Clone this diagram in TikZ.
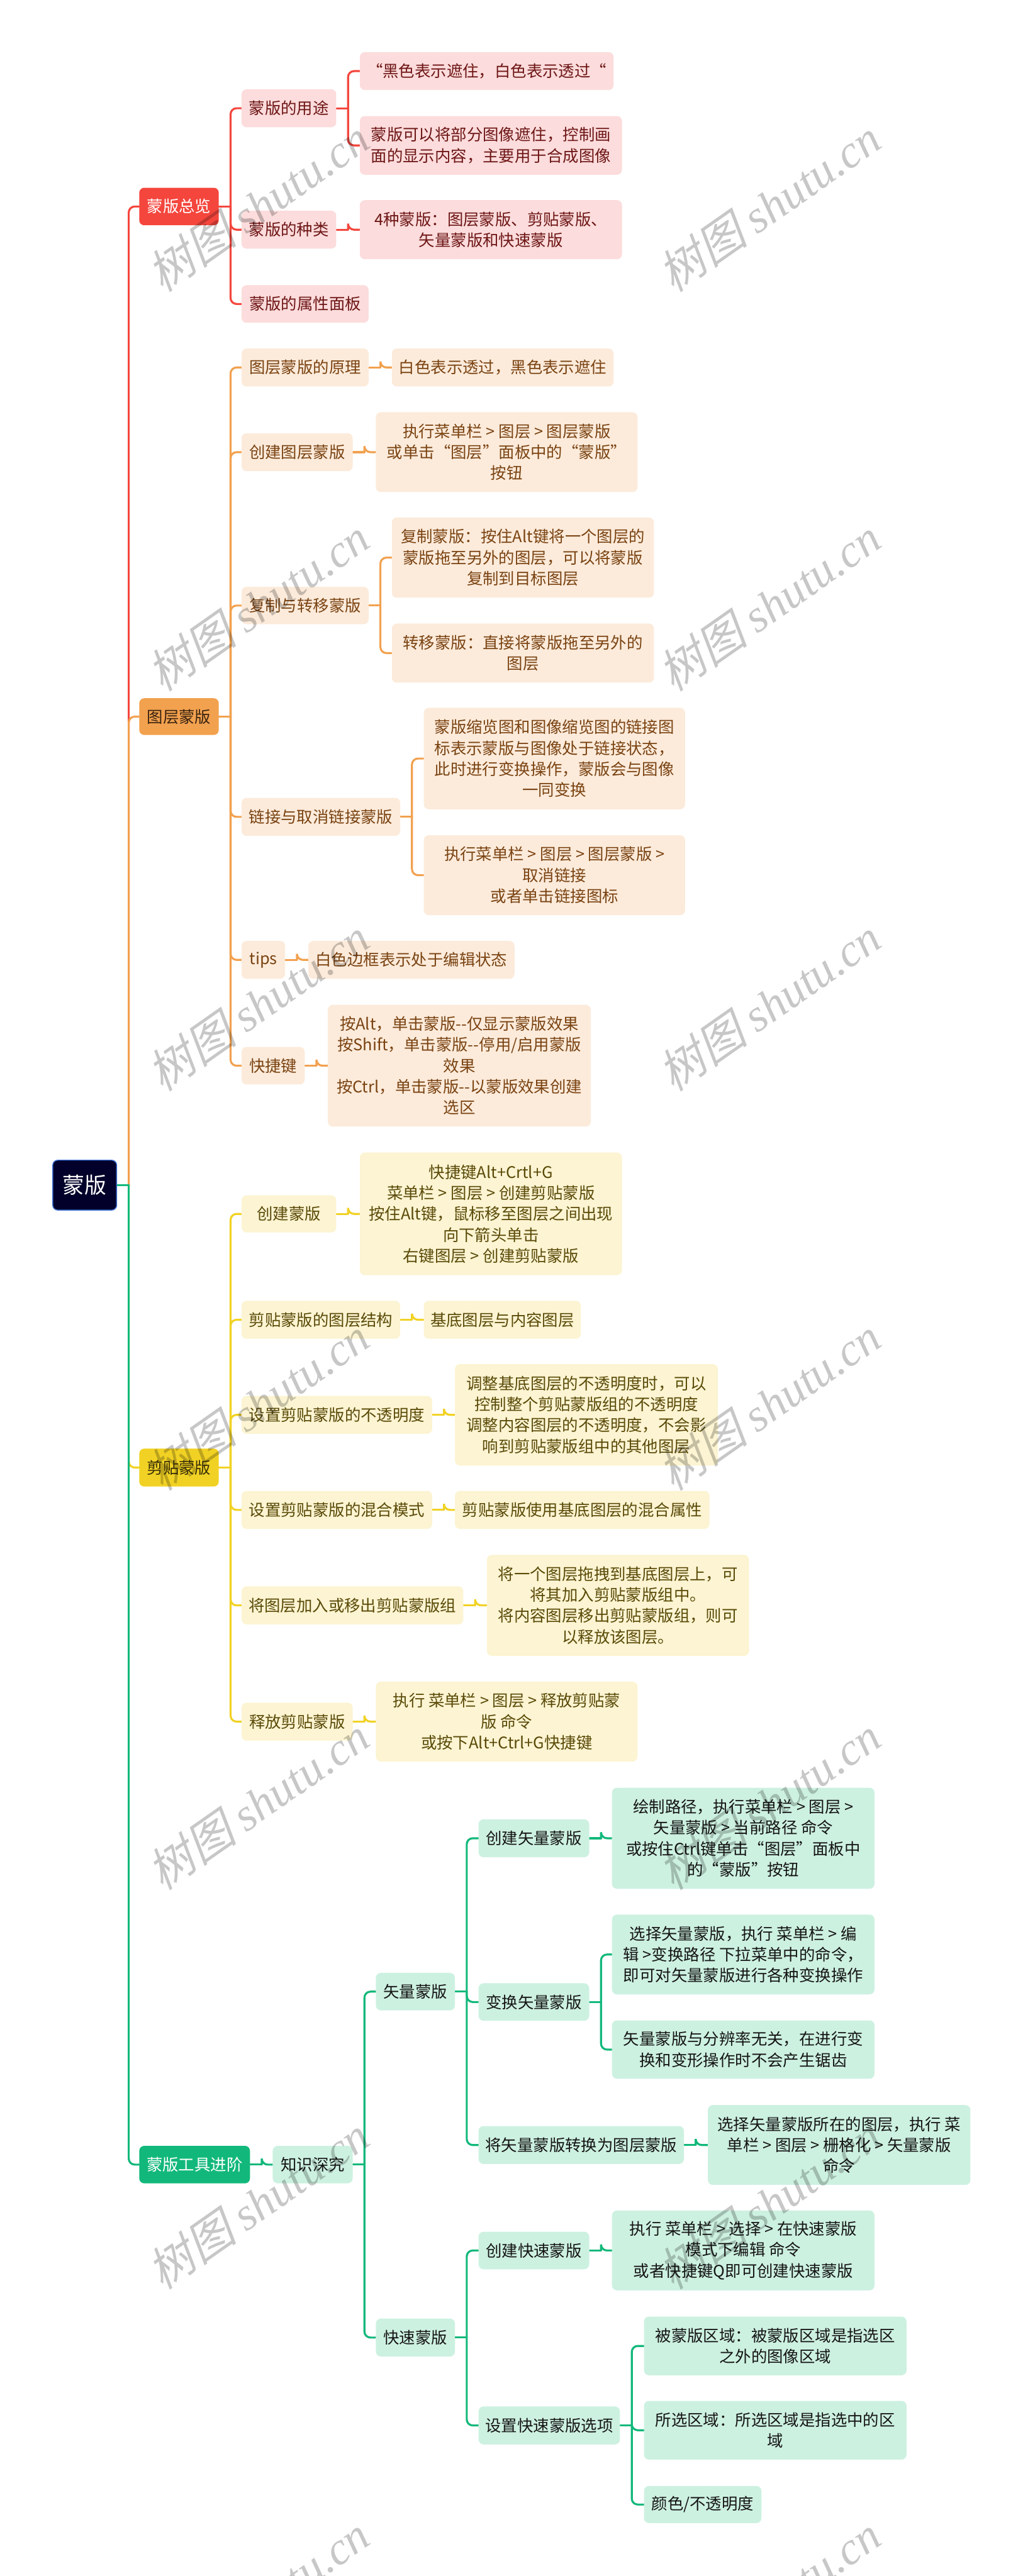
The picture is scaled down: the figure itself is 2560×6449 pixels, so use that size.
\documentclass[tikz,border=0pt]{standalone}
\usepackage{fontspec}
\setmainfont{Noto Sans CJK SC}
\newfontfamily\wmlat{Liberation Serif}
\newfontfamily\wmcjk{Noto Sans CJK SC}[FakeSlant=0.25]
\usetikzlibrary{backgrounds}
\definecolor{rootfill}{HTML}{02002A}
\definecolor{rootborder}{HTML}{3B6FD0}
\definecolor{redmain}{HTML}{F4463D}
\definecolor{redlight}{HTML}{FCDCDC}
\definecolor{redtext}{HTML}{6E1616}
\definecolor{ormain}{HTML}{F2A14F}
\definecolor{orlight}{HTML}{FCEBDB}
\definecolor{ortext}{HTML}{7A4312}
\definecolor{ordark}{HTML}{3A2410}
\definecolor{yemain}{HTML}{F1D224}
\definecolor{yelight}{HTML}{FCF4D2}
\definecolor{yetext}{HTML}{5A4A08}
\definecolor{yedark}{HTML}{3A3008}
\definecolor{grmain}{HTML}{12B87B}
\definecolor{grlight}{HTML}{CDF1E1}
\definecolor{grtext}{HTML}{151515}
\newcommand\conn[3]{\draw[#1] (#2.east) -- ++(29,0) coordinate (jn); \draw[#1, rounded corners=6pt] (jn) |- (#3.west);}
\newcommand\dd{-{}-}
\tikzset{
  base/.style={rounded corners=5pt, inner sep=0pt, align=center, font=\fontsize{16pt}{21pt}\selectfont},
  sz/.style 2 args={minimum width=#1*0.4pt, minimum height=#2*0.4pt},
  rootbox/.style={base, fill=rootfill, draw=rootborder, line width=0.9pt, text=white, font=\fontsize{22pt}{26pt}\selectfont},
  redtop/.style={base, fill=redmain, text=white},
  redbox/.style={base, fill=redlight, text=redtext},
  ortop/.style={base, fill=ormain, text=ordark},
  orbox/.style={base, fill=orlight, text=ortext},
  yetop/.style={base, fill=yemain, text=yedark},
  yebox/.style={base, fill=yelight, text=yetext},
  grtop/.style={base, fill=grmain, text=white},
  grbox/.style={base, fill=grlight, text=grtext},
  lnred/.style={draw=redmain, line width=2pt, line cap=round},
  lnor/.style={draw=ormain, line width=2pt, line cap=round},
  lnye/.style={draw=yemain, line width=2pt, line cap=round},
  lngr/.style={draw=grmain, line width=2pt, line cap=round},
  wmark/.style={rotate=35, text=black, text opacity=0.22, inner sep=0pt, font=\fontsize{46pt}{46pt}\selectfont}
}
\begin{document}
\begin{tikzpicture}[x=0.4pt, y=-0.4pt]
\useasboundingbox (0,0) rectangle (2560,6449);
% root
\node[rootbox, sz={160}{125}] (root) at (212,2967) {蒙版};
% level 1
\node[redtop, sz={199}{94}, anchor=west] (n1) at (348,517) {蒙版总览};
\node[ortop, sz={199}{92}, anchor=west] (n2) at (348,1794) {图层蒙版};
\node[yetop, sz={199}{95}, anchor=west] (n3) at (348,3674) {剪贴蒙版};
\node[grtop, sz={277}{94}, anchor=west] (n4) at (348,5419) {蒙版工具进阶};
% red branch
\node[redbox, sz={237}{95}, anchor=west] (a1) at (604,271) {蒙版的用途};
\node[redbox, sz={237}{95}, anchor=west] (a2) at (604,575) {蒙版的种类};
\node[redbox, sz={318}{94}, anchor=west] (a3) at (604,761) {蒙版的属性面板};
\node[redbox, sz={635}{95}, anchor=west] (a1a) at (900,178) {“黑色表示遮住，白色表示透过“};
\node[redbox, sz={656}{147}, anchor=west] (a1b) at (900,364) {蒙版可以将部分图像遮住，控制画\\面的显示内容，主要用于合成图像};
\node[redbox, sz={656}{148}, anchor=west] (a2a) at (900,575) {4种蒙版：图层蒙版、剪贴蒙版、\\矢量蒙版和快速蒙版};
% orange branch
\node[orbox, sz={318}{95}, anchor=west] (b1) at (604,920) {图层蒙版的原理};
\node[orbox, sz={555}{95}, anchor=west] (b1a) at (980,920) {白色表示透过，黑色表示遮住};
\node[orbox, sz={278}{95}, anchor=west] (b2) at (604,1132) {创建图层蒙版};
\node[orbox, sz={655}{200}, anchor=west] (b2a) at (940,1132) {执行菜单栏 > 图层 > 图层蒙版\\或单击“图层”面板中的“蒙版”\\按钮};
\node[orbox, sz={318}{94}, anchor=west] (b3) at (604,1516) {复制与转移蒙版};
\node[orbox, sz={656}{201}, anchor=west] (b3a) at (980,1396) {复制蒙版：按住Alt键将一个图层的\\蒙版拖至另外的图层，可以将蒙版\\复制到目标图层};
\node[orbox, sz={656}{148}, anchor=west] (b3b) at (980,1635) {转移蒙版：直接将蒙版拖至另外的\\图层};
\node[orbox, sz={397}{95}, anchor=west] (b4) at (604,2045) {链接与取消链接蒙版};
\node[orbox, sz={654}{254}, anchor=west] (b4a) at (1060,1899) {蒙版缩览图和图像缩览图的链接图\\标表示蒙版与图像处于链接状态，\\此时进行变换操作，蒙版会与图像\\一同变换};
\node[orbox, sz={654}{200}, anchor=west] (b4b) at (1060,2191) {执行菜单栏 > 图层 > 图层蒙版 >\\取消链接\\或者单击链接图标};
\node[orbox, sz={109}{95}, anchor=west] (b5) at (604,2403) {tips};
\node[orbox, sz={516}{95}, anchor=west] (b5a) at (771,2403) {白色边框表示处于编辑状态};
\node[orbox, sz={158}{94}, anchor=west] (b6) at (604,2668) {快捷键};
\node[orbox, sz={658}{305}, anchor=west] (b6a) at (820,2668) {按Alt，单击蒙版\dd 仅显示蒙版效果\\按Shift，单击蒙版\dd 停用/启用蒙版\\效果\\按Ctrl，单击蒙版\dd 以蒙版效果创建\\选区};
% yellow branch
\node[yebox, sz={237}{93}, anchor=west] (c1) at (604,3039) {创建蒙版};
\node[yebox, sz={656}{307}, anchor=west] (c1a) at (900,3039) {快捷键Alt+Crtl+G\\菜单栏 > 图层 > 创建剪贴蒙版\\按住Alt键，鼠标移至图层之间出现\\向下箭头单击\\右键图层 > 创建剪贴蒙版};
\node[yebox, sz={397}{95}, anchor=west] (c2) at (604,3304) {剪贴蒙版的图层结构};
\node[yebox, sz={393}{95}, anchor=west] (c2a) at (1060,3304) {基底图层与内容图层};
\node[yebox, sz={477}{95}, anchor=west] (c3) at (604,3542) {设置剪贴蒙版的不透明度};
\node[yebox, sz={658}{254}, anchor=west] (c3a) at (1138,3542) {调整基底图层的不透明度时，可以\\控制整个剪贴蒙版组的不透明度\\调整内容图层的不透明度，不会影\\响到剪贴蒙版组中的其他图层};
\node[yebox, sz={477}{95}, anchor=west] (c4) at (604,3780) {设置剪贴蒙版的混合模式};
\node[yebox, sz={637}{95}, anchor=west] (c4a) at (1138,3780) {剪贴蒙版使用基底图层的混合属性};
\node[yebox, sz={555}{95}, anchor=west] (c5) at (604,4019) {将图层加入或移出剪贴蒙版组};
\node[yebox, sz={656}{253}, anchor=west] (c5a) at (1218,4019) {将一个图层拖拽到基底图层上，可\\将其加入剪贴蒙版组中。\\将内容图层移出剪贴蒙版组，则可\\以释放该图层。};
\node[yebox, sz={278}{95}, anchor=west] (c6) at (604,4310) {释放剪贴蒙版};
\node[yebox, sz={655}{200}, anchor=west] (c6a) at (940,4310) {执行 菜单栏 > 图层 > 释放剪贴蒙\\版 命令\\或按下Alt+Ctrl+G快捷键};
% green branch
\node[grbox, sz={200}{94}, anchor=west] (d1) at (682,5419) {知识深究};
\node[grbox, sz={198}{94}, anchor=west] (d2) at (940,4986) {矢量蒙版};
\node[grbox, sz={198}{95}, anchor=west] (d3) at (940,5852) {快速蒙版};
\node[grbox, sz={277}{95}, anchor=west] (e1) at (1197,4602) {创建矢量蒙版};
\node[grbox, sz={657}{253}, anchor=west] (e1a) at (1531,4602) {绘制路径，执行菜单栏 > 图层 >\\矢量蒙版 > 当前路径 命令\\或按住Ctrl键单击“图层”面板中\\的“蒙版”按钮};
\node[grbox, sz={277}{94}, anchor=west] (e2) at (1197,5012) {变换矢量蒙版};
\node[grbox, sz={657}{200}, anchor=west] (e2a) at (1531,4893) {选择矢量蒙版，执行 菜单栏 > 编\\辑 >变换路径 下拉菜单中的命令，\\即可对矢量蒙版进行各种变换操作};
\node[grbox, sz={657}{146}, anchor=west] (e2b) at (1531,5131) {矢量蒙版与分辨率无关，在进行变\\换和变形操作时不会产生锯齿};
\node[grbox, sz={514}{95}, anchor=west] (e3) at (1197,5370) {将矢量蒙版转换为图层蒙版};
\node[grbox, sz={657}{200}, anchor=west] (e3a) at (1771,5370) {选择矢量蒙版所在的图层，执行 菜\\单栏 > 图层 > 栅格化 > 矢量蒙版\\命令};
\node[grbox, sz={277}{94}, anchor=west] (f1) at (1197,5634) {创建快速蒙版};
\node[grbox, sz={657}{200}, anchor=west] (f1a) at (1531,5634) {执行 菜单栏 > 选择 > 在快速蒙版\\模式下编辑 命令\\或者快捷键Q即可创建快速蒙版};
\node[grbox, sz={354}{95}, anchor=west] (f2) at (1197,6072) {设置快速蒙版选项};
\node[grbox, sz={657}{147}, anchor=west] (f2a) at (1611,5873) {被蒙版区域：被蒙版区域是指选区\\之外的图像区域};
\node[grbox, sz={657}{147}, anchor=west] (f2b) at (1611,6084) {所选区域：所选区域是指选中的区\\域};
\node[grbox, sz={294}{93}, anchor=west] (f2c) at (1611,6270) {颜色/不透明度};
% connectors
\begin{scope}[on background layer]
\conn{lnred}{root}{n1}
\conn{lnred}{n1}{a1}\conn{lnred}{n1}{a2}\conn{lnred}{n1}{a3}
\conn{lnred}{a1}{a1a}\conn{lnred}{a1}{a1b}\conn{lnred}{a2}{a2a}
\conn{lnor}{root}{n2}
\conn{lnor}{n2}{b1}\conn{lnor}{n2}{b2}\conn{lnor}{n2}{b3}\conn{lnor}{n2}{b4}\conn{lnor}{n2}{b5}\conn{lnor}{n2}{b6}
\conn{lnor}{b1}{b1a}\conn{lnor}{b2}{b2a}\conn{lnor}{b3}{b3a}\conn{lnor}{b3}{b3b}
\conn{lnor}{b4}{b4a}\conn{lnor}{b4}{b4b}\conn{lnor}{b5}{b5a}\conn{lnor}{b6}{b6a}
\conn{lnye}{root}{n3}
\conn{lnye}{n3}{c1}\conn{lnye}{n3}{c2}\conn{lnye}{n3}{c3}\conn{lnye}{n3}{c4}\conn{lnye}{n3}{c5}\conn{lnye}{n3}{c6}
\conn{lnye}{c1}{c1a}\conn{lnye}{c2}{c2a}\conn{lnye}{c3}{c3a}\conn{lnye}{c4}{c4a}\conn{lnye}{c5}{c5a}\conn{lnye}{c6}{c6a}
\conn{lngr}{root}{n4}
\conn{lngr}{n4}{d1}
\conn{lngr}{d1}{d2}\conn{lngr}{d1}{d3}
\conn{lngr}{d2}{e1}\conn{lngr}{d2}{e2}\conn{lngr}{d2}{e3}
\conn{lngr}{e1}{e1a}\conn{lngr}{e2}{e2a}\conn{lngr}{e2}{e2b}\conn{lngr}{e3}{e3a}
\conn{lngr}{d3}{f1}\conn{lngr}{d3}{f2}
\conn{lngr}{f1}{f1a}\conn{lngr}{f2}{f2a}\conn{lngr}{f2}{f2b}\conn{lngr}{f2}{f2c}
\end{scope}
% watermarks
\foreach \k in {0,...,6} {
  \node[wmark] at (645,515+1000*\k) {{\wmcjk 树图} {\wmlat\itshape shutu.cn}};
  \node[wmark] at (1924,515+1000*\k) {{\wmcjk 树图} {\wmlat\itshape shutu.cn}};
}
\end{tikzpicture}
\end{document}
